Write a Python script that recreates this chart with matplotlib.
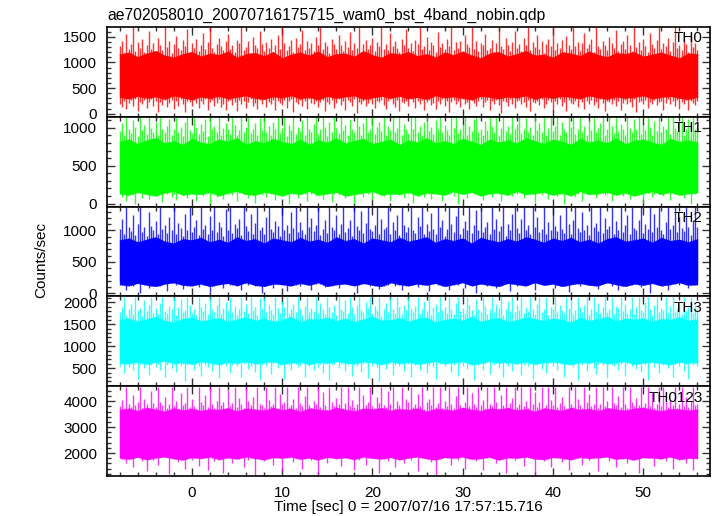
import numpy as np
import matplotlib
matplotlib.use('Agg')
import matplotlib.pyplot as plt
from matplotlib.ticker import MultipleLocator

plt.rcParams['font.family'] = ['Liberation Sans', 'DejaVu Sans']

title = "ae702058010_20070716175715_wam0_bst_4band_nobin.qdp"
xlabel = "Time [sec] 0 = 2007/07/16 17:57:15.716"
ylabel = "Counts/sec"
bands = ["TH0", "TH1", "TH2", "TH3", "TH0123"]
colors = ["#ff0000", "#00ff00", "#0000ff", "#00ffff", "#ff00ff"]

# time span of the light curves (seconds from 17:57:15.716)
t_start, t_stop = -8.0, 56.0

# ---- TH0 (red): 0.25-s upper / lower envelopes, 1-s dense core ----
th0_hi = [1310,1420,1180,1560,1270,1350,1690,1230,1390,1290,1460,1200,1340,1610,1260,1380,
          1220,1470,1330,1250,1690,1300,1410,1190,1360,1520,1280,1240,1430,1320,1650,1210,
          1370,1290,1450,1230,1340,1580,1260,1400,1690,1280,1200,1350,1480,1310,1240,1420,
          1550,1270,1330,1210,1440,1370,1690,1250,1300,1410,1190,1500,1340,1280,1620,1360,
          1230,1390,1290,1460,1210,1330,1540,1270,1690,1380,1250,1320,1430,1200,1470,1300,
          1350,1640,1240,1410,1280,1370,1220,1490,1330,1690,1260,1400,1310,1190,1450,1360,
          1270,1530,1340,1230,1420,1300,1600,1250,1380,1290,1690,1210,1350,1440,1270,1330,
          1480,1220,1390,1310,1690,1260,1360,1240,1570,1320,1410,1280,1200,1460,1340,1650,
          1290,1380,1230,1430,1350,1690,1270,1310,1500,1250,1400,1340,1210,1590,1300,1370,
          1260,1450,1320,1690,1240,1390,1280,1420,1200,1530,1350,1300,1690,1270,1410,1230,
          1380,1330,1560,1250,1290,1440,1210,1370,1690,1310,1260,1480,1340,1230,1400,1620,
          1280,1360,1220,1470,1330,1690,1250,1390,1300,1540,1270,1420,1190,1350,1460,1310,
          1690,1240,1380,1290,1430,1210,1510,1340,1260,1690,1320,1400,1230,1370,1580,1280,
          1350,1450,1200,1690,1310,1260,1420,1330,1240,1490,1380,1290,1640,1220,1360,1410,
          1270,1530,1340,1230,1690,1300,1390,1250,1460,1320,1210,1570,1350,1280,1440,1690,
          1260,1370,1310,1480,1220,1400,1690,1290,1340,1250,1430,1360,1200,1520,1300,1380,
          1250]
th0_lo = [190,140,250,90,210,260,160,280,60,230,180,270,120,220,280,150,
          250,40,230,170,270,130,210,260,100,240,160,280,190,30,250,220,
          150,270,200,110,250,180,280,80,230,260,160,210,280,140,190,70,
          240,260,170,220,50,270,190,250,120,230,280,160,200,100,260,180,
          280,140,230,190,270,80,250,200,170,260,110,240,280,40,220,190,
          260,160,240,90,280,210,180,250,140,230,270,60,220,190,260,120,
          200,280,170,240,80,260,220,150,280,20,230,190,250,150,210,270,
          180,110,250,220,270,170,90,240,280,190,140,260,50,230,210,250,
          160,280,220,120,250,190,260,70,230,270,170,210,100,250,180,280,
          150,240,40,220,270,190,250,130,280,180,230,90,260,210,160,250,
          280,140,220,260,80,240,190,270,170,10,250,220,150,280,190,110,
          240,260,180,220,140,270,60,230,210,250,170,280,120,190,260,220,
          90,250,190,280,160,230,50,260,210,180,240,140,280,220,100,250,
          190,260,170,230,120,280,210,60,250,220,180,270,150,240,80,210,
          260,180,230,140,280,30,220,250,190,260,110,230,180,270,170,220,
          250,80,210,280,180,240,150,260,100,230,190,270,70,250,210,170,
          240]
th0_core_hi = [1160,1200,1110,1180,1230,1140,1100,1170,1210,1120,1180,1150,1220,1100,1170,1190,
               1130,1210,1090,1160,1200,1140,1220,1110,1170,1180,1120,1230,1150,1100,1190,1160,
               1210,1130,1170,1100,1200,1150,1220,1140,1090,1180,1210,1120,1170,1230,1140,1160,
               1100,1200,1180,1130,1220,1150,1110,1190,1170,1210,1120,1160,1200,1140,1090,1180,
               1170]
th0_core_lo = [320,290,340,300,330,280,350,310,270,330,300,340,290,320,350,300,
               280,330,310,350,290,320,270,340,300,330,350,280,310,340,300,340,
               290,320,280,350,310,330,300,270,340,320,290,330,310,350,280,330,
               300,340,320,290,350,310,280,330,300,320,350,290,320,340,300,280,
               320]

# ---- TH1 (green) ----
th1_hi = [960,1060,900,1140,990,930,1100,1010,890,1140,970,1040,920,1140,1000,950,
          1080,910,1140,980,940,1030,1120,900,990,1140,950,1010,890,1070,1140,970,
          930,1140,1000,920,1050,960,1110,890,1140,980,1030,940,1140,910,1000,1060,
          980,920,1140,1040,900,970,1140,950,1010,1140,930,990,1060,900,1130,970,
          1140,950,1020,910,1080,980,1140,930,1000,1140,890,1040,970,1140,920,1010,
          960,1100,900,1140,990,940,1050,1140,920,980,1140,1010,890,1070,950,1140,
          1000,930,1140,970,1040,910,1110,980,950,1140,1020,900,1060,1140,940,990,
          1140,920,1010,1080,960,1140,900,1030,970,1140,940,1000,1140,910,1050,980,
          930,1140,990,1140,950,1020,900,1070,1140,960,1010,920,1100,980,1140,940,
          1040,970,910,1140,1000,1140,930,980,1050,1140,900,1020,960,1120,1140,950,
          990,910,1090,970,1140,1020,940,1140,900,1000,1140,960,1030,920,1140,980,
          1050,1140,930,990,1130,950,1010,900,1140,970,1060,940,1140,910,1000,1140,
          960,1020,1140,900,1070,980,940,1140,1010,1140,920,990,1140,950,1030,910,
          1100,970,1140,940,1000,1060,1140,900,980,1140,1020,930,1140,960,1050,990,
          910,1140,1000,950,1110,980,1140,920,1040,970,1140,1010,900,1090,960,1140,
          940,1030,980,1140,920,1140,1000,960,1070,1140,910,990,1120,950,1140,980,
          1010]
th1_lo = [150,90,170,40,130,160,110,0,140,170,80,150,120,60,160,130,
          100,170,140,20,150,120,170,90,130,50,160,140,110,170,70,150,
          160,120,30,150,170,100,140,160,0,130,170,90,150,120,60,170,
          130,150,110,170,40,140,160,120,170,80,130,150,10,160,140,110,
          170,90,150,130,160,50,140,170,120,100,160,0,150,130,170,80,
          140,160,120,30,170,130,150,100,160,140,60,170,120,150,20,130,
          160,110,170,140,70,150,130,160,0,140,170,120,90,160,130,150,
          50,170,140,120,160,100,150,170,30,130,160,140,110,170,80,150,
          130,160,10,150,120,170,140,90,160,130,60,170,150,120,160,40,
          170,140,120,160,100,150,0,170,130,160,80,140,170,120,150,110,
          160,50,150,130,170,90,160,140,120,30,170,150,130,160,100,140,
          120,170,140,70,160,130,150,170,20,140,160,110,150,170,60,130,
          160,140,100,170,130,0,150,160,120,170,90,140,160,40,150,130,
          170,120,150,80,160,140,170,110,130,160,30,150,170,120,140,100,
          150,170,60,140,160,130,120,170,10,150,140,160,90,130,170,120,
          140,100,160,170,50,150,130,160,120,170,80,140,150,0,160,130,
          150]
th1_core_hi = [820,850,790,840,870,800,830,780,860,810,790,850,820,870,780,830,
               800,860,820,790,850,780,840,810,870,800,830,860,790,820,850,780,
               840,810,870,800,830,790,860,820,780,850,810,840,800,870,830,790,
               850,820,780,860,810,840,800,870,790,830,850,810,780,860,820,840,
               810]
th1_core_lo = [130,110,150,120,100,140,160,110,130,120,150,100,140,160,120,110,
               150,130,100,140,120,160,110,130,150,100,120,140,160,110,130,120,
               150,100,140,130,110,160,120,150,100,130,140,110,160,120,130,150,
               110,140,100,160,120,130,150,110,140,100,130,160,120,150,110,130,
               140]

# ---- TH2 (blue) ----
th2_hi = [1020,1180,950,1380,1060,990,1240,930,1110,1380,980,1050,920,1300,1070,1000,
          1150,940,1380,1030,1090,960,1210,1010,1380,950,1120,1040,910,1270,1000,1380,
          980,1060,1160,930,1380,1020,1090,950,1230,1000,1380,970,1140,1050,920,1340,
          1010,1380,960,1100,1040,1190,930,1380,1070,990,1260,950,1120,1380,1000,1060,
          940,1220,1380,1030,980,1150,1070,920,1380,1010,1090,960,1290,1040,1380,970,
          1130,1000,940,1380,1060,1200,990,1080,1380,930,1030,1170,960,1380,1050,1010,
          1250,950,1100,1380,980,1040,1160,920,1380,1070,1000,1310,960,1120,1380,1030,
          990,1080,1380,940,1190,1020,1060,1380,950,1140,1000,1240,930,1380,1090,970,
          1050,1380,1010,960,1210,1070,1380,940,1110,990,1280,1030,950,1380,1060,1170,
          920,1020,1380,1100,980,1230,1380,950,1040,1150,1000,1380,960,1080,1320,1010,
          1380,970,1060,1130,940,1380,1030,1190,990,1070,1380,920,1110,1000,1260,1380,
          1040,960,1180,1380,1010,1090,950,1380,1060,1220,980,1030,1380,940,1140,1000,
          1380,1070,990,1250,1020,960,1380,1100,950,1160,1380,1040,980,1300,1010,1080,
          930,1380,1050,1120,990,1380,960,1200,1030,1070,1380,950,1150,1010,1380,980,
          1090,1240,940,1380,1040,1000,1170,1380,960,1110,1030,1380,980,1270,1060,1380,
          1000,950,1130,1380,1020,1080,1380,970,1210,1040,990,1380,1060,930,1160,1380,
          1050]
th2_lo = [200,150,220,60,180,210,120,230,170,0,200,160,220,90,190,140,
          230,170,110,210,190,40,220,160,200,130,230,180,70,210,150,200,
          160,220,190,100,230,170,140,210,20,190,220,150,180,230,80,200,
          210,130,230,180,160,220,50,190,210,140,170,230,110,200,180,0,
          190,220,150,230,90,180,210,160,200,230,30,170,220,140,190,210,
          120,200,230,170,190,60,220,150,210,180,230,100,160,220,190,140,
          230,80,180,210,160,230,130,200,190,10,220,170,150,210,230,110,
          180,220,150,70,200,190,230,140,170,210,120,230,190,50,200,160,
          220,140,190,230,100,180,210,160,230,30,200,170,220,130,190,210,
          150,230,60,200,180,220,140,190,210,90,230,160,200,180,0,220,
          170,200,230,120,190,160,210,80,230,180,150,220,200,40,190,230,
          110,210,170,200,230,140,180,220,60,190,210,160,230,130,200,170,
          220,90,190,230,150,210,180,20,200,230,160,190,120,220,170,210,
          230,140,200,180,70,220,160,210,190,230,110,180,200,50,210,170,
          190,220,130,230,180,160,210,100,200,230,150,0,190,220,170,140,
          210,180,230,60,200,160,220,190,130,230,170,210,80,190,220,160,
          200]
th2_core_hi = [850,880,820,860,900,830,800,870,850,890,820,860,810,900,840,870,
               800,880,850,820,890,830,860,810,900,840,870,800,880,850,820,890,
               830,860,900,810,870,840,880,800,890,850,820,870,830,900,860,810,
               880,840,890,820,860,800,870,900,830,850,880,810,890,840,860,820,
               870]
th2_core_lo = [140,120,160,130,110,150,170,130,120,150,110,140,160,120,170,130,
               110,150,140,120,160,130,170,110,140,150,120,160,130,110,170,140,
               120,150,130,160,110,140,170,120,150,130,110,160,140,120,170,130,
               150,110,140,160,130,120,170,140,110,150,130,160,120,140,170,130,
               140]

# ---- TH3 (cyan) ----
th3_hi = [1780,1900,2130,1720,1850,1960,1740,2130,1820,1880,1700,2050,1810,1930,2130,1760,
          1870,1730,1990,2130,1800,1750,1920,1840,2130,1710,1890,2070,1780,1830,2130,1950,
          1760,1860,1720,2130,1900,1800,1980,1740,2130,1850,1790,1940,2130,1730,1880,2010,
          1820,2130,1770,1910,1710,1860,2130,1800,1960,1750,2130,1830,1890,1720,2090,1850,
          2130,1780,1940,1820,1740,2130,1880,1760,2030,1900,2130,1730,1850,1970,1790,2130,
          1840,1710,1920,2130,1770,1880,1810,2130,1750,1990,1860,1730,2130,1900,1790,1950,
          1720,2130,1850,1800,2060,1760,2130,1890,1740,1930,2130,1820,1780,2010,1870,2130,
          1750,1910,1830,2130,1700,1860,1980,1790,2130,1840,1760,2130,1900,1730,1950,1820,
          2130,1880,1770,1920,2130,1740,1850,2040,1810,2130,1720,1890,1960,1780,2130,1830,
          1900,1760,2130,1850,1730,1990,2130,1800,1870,1750,2130,1930,1820,1710,2080,1860,
          1790,2130,1910,1740,1840,2130,1780,1960,1880,2130,1720,1850,2020,1800,2130,1770,
          1930,1820,2130,1750,1890,1800,2130,1860,1730,1970,2130,1790,1840,2130,1710,1900,
          1850,2130,1780,1940,1820,1760,2130,1880,2050,1740,1830,2130,1900,1770,1950,2130,
          1720,1860,2130,1810,1980,1750,1890,2130,1790,1840,2130,1730,1920,1870,2130,1800,
          1960,1760,1850,2130,1740,1900,2130,1820,1780,2000,2130,1860,1710,1930,2130,1790,
          1880,1830,2130,1750,1910,2130,1770,1860,1990,1740,2130,1820,1890,2130,1760,1940,
          1850]
th3_lo = [560,620,380,590,520,640,450,600,250,580,630,500,610,340,570,640,
          530,600,460,640,290,580,620,510,590,410,630,550,600,200,580,620,
          600,470,640,560,330,610,580,520,640,430,590,620,270,570,610,540,
          630,390,580,610,540,640,300,590,620,480,560,640,420,600,230,580,
          610,550,640,360,590,620,500,580,640,260,610,570,450,630,590,520,
          580,640,310,600,560,620,470,640,530,590,380,610,640,240,570,600,
          640,500,590,620,440,580,640,320,600,560,630,410,590,620,280,610,
          560,630,520,210,600,640,480,590,620,350,580,640,540,600,430,630,
          590,300,610,570,640,460,600,620,390,580,640,520,260,610,590,630,
          540,600,640,420,580,620,330,610,560,640,490,590,620,220,600,570,
          630,470,590,640,370,610,580,620,510,640,290,600,560,630,440,590,
          610,640,340,580,620,540,600,250,630,570,610,480,640,400,590,620,
          560,610,460,640,590,310,620,580,640,520,600,230,610,570,630,430,
          600,640,500,360,590,620,570,640,270,610,580,540,630,450,600,640,
          320,590,620,560,640,480,600,410,630,580,240,610,640,520,590,380,
          620,570,640,500,610,300,590,630,550,640,430,600,260,620,580,610,
          560]
th3_core_hi = [1600,1640,1570,1620,1680,1590,1550,1630,1660,1580,1610,1650,1560,1620,1670,1590,
               1640,1570,1600,1680,1550,1630,1610,1660,1580,1640,1560,1620,1680,1590,1600,1650,
               1570,1630,1660,1550,1610,1640,1590,1680,1570,1620,1650,1560,1600,1670,1630,1580,
               1640,1610,1550,1660,1590,1620,1680,1570,1640,1600,1650,1560,1630,1610,1670,1590,
               1620]
th3_core_lo = [620,600,650,590,640,660,610,630,590,650,620,580,640,610,660,600,
               630,650,590,620,640,580,640,610,660,620,600,650,630,580,650,610,
               640,590,620,660,600,630,650,580,610,660,620,640,600,650,590,630,
               650,610,580,640,620,660,600,630,650,590,620,640,610,580,640,620,
               630]

# ---- TH0123 (magenta) ----
th0123_hi = [3820,4050,3700,4560,3900,3760,4220,3850,3980,4560,3740,4100,3880,3690,4380,3920,
             3780,4560,3960,3850,4150,3720,3900,4560,3800,4000,3680,4300,3870,3940,4560,3760,
             4080,3830,3710,4560,3950,3870,4250,3790,4560,3900,3740,4020,4560,3850,3960,3700,
             4420,3810,3920,4560,3770,4120,3880,3730,4560,3990,3840,4180,3700,4560,3910,3860,
             3750,4560,4030,3820,3900,4560,3690,4270,3880,3960,4560,3780,3850,4090,3720,4560,
             3930,3800,4200,4560,3860,3740,4000,3910,4560,3770,4340,3850,3700,4560,3960,3820,
             4110,3880,4560,3730,3940,4560,3810,4050,3760,3900,4560,3690,4230,3870,3980,4560,
             3800,3720,4160,3920,4560,3850,3760,4400,3890,4560,3740,3990,3840,4560,3700,4070,
             3950,4560,3780,3880,4260,3820,4560,3710,3960,4100,3860,4560,3790,3920,4560,3740,
             4010,3830,4560,3900,3750,4190,4560,3870,3720,3980,4560,3810,4320,3890,3760,4560,
             3840,4060,3730,4560,3910,3800,4560,3950,3700,4240,3860,4560,3780,3930,4120,4560,
             3760,3890,4560,3820,4000,3740,4560,3880,4360,3790,3950,4560,3710,3870,4560,4030,
             3850,4560,3770,3940,4150,3820,3690,4560,3900,3780,4560,4080,3860,3730,4560,3960,
             4280,3800,3910,4560,3750,3880,4560,3830,4020,3710,4560,3940,3860,4200,3780,4560,
             3900,3740,4560,3970,3820,4110,3870,4560,3760,3930,4560,3800,4330,3720,3890,4560,
             3810,4560,3950,3780,4040,3870,4560,3740,3910,4560,3830,4170,3760,3990,4560,3850,
             3900]
th0123_lo = [1950,1800,2050,1600,1900,2000,1450,1950,1850,2050,1700,1950,1300,2000,1900,1750,
             2050,1550,1900,2000,1850,1950,1200,2050,1800,1900,1650,2000,1950,1400,1850,2050,
             1750,1950,2000,1500,1900,2050,1850,1350,2000,1950,1700,2050,1800,1900,1250,1950,
             2000,1850,1600,2050,1950,1800,1900,1450,2050,1750,2000,1900,1150,1950,2050,1850,
             1700,2000,1900,2050,1550,1950,1850,2000,1300,1900,2050,1800,1950,1650,2000,1900,
             2050,1400,1950,1850,2000,1750,2050,1900,1200,1950,2000,1850,1600,2050,1900,1950,
             1800,2050,1500,1950,2000,1900,1850,2050,1350,1950,1750,2000,2050,1550,1900,1950,
             2000,1850,2050,1250,1950,1900,2000,1700,2050,1800,1450,1950,2000,1900,1600,2050,
             1950,1750,2000,1850,1300,2050,1950,1900,1800,2000,1650,2050,1150,1950,1900,2000,
             1850,2050,1950,1550,2000,1900,1750,2050,1950,1400,1900,2000,1850,2050,1700,1950,
             2000,1350,1950,2050,1900,1800,2000,1600,2050,1950,1850,1250,2000,1900,2050,1750,
             1950,2000,1850,1500,2050,1900,1950,1800,1200,2000,2050,1900,1700,1950,2000,1450,
             2050,1900,1950,2000,1650,1850,2050,1350,1950,1900,2000,1800,2050,1550,1950,1900,
             1750,2050,1950,1900,1300,2000,1850,2050,1950,1700,1900,2000,1450,2050,1900,1950,
             2000,1600,1950,2050,1850,1900,1250,2000,1950,2050,1800,1900,1950,1500,2050,1850,
             1950,2000,1700,1900,2050,1400,1950,2000,1850,1950,2050,1600,1900,2000,1350,1950,
             2000]
th0123_core_hi = [3680,3730,3630,3760,3690,3610,3740,3660,3720,3640,3700,3680,3750,3620,3730,3690,
                  3650,3760,3670,3720,3600,3740,3690,3640,3760,3680,3620,3730,3700,3750,3650,3710,
                  3670,3740,3610,3720,3690,3650,3760,3680,3630,3730,3700,3750,3660,3710,3610,3740,
                  3690,3640,3760,3670,3720,3620,3750,3690,3650,3730,3760,3680,3630,3710,3700,3650,
                  3700]
th0123_core_lo = [1800,1760,1840,1740,1810,1850,1780,1730,1830,1790,1850,1750,1820,1770,1850,1790,
                  1740,1830,1800,1850,1760,1810,1730,1840,1790,1820,1750,1850,1800,1770,1830,1740,
                  1810,1850,1780,1730,1830,1800,1850,1760,1790,1840,1730,1820,1800,1850,1770,1750,
                  1830,1800,1740,1840,1790,1820,1850,1760,1800,1730,1830,1810,1780,1850,1750,1800,
                  1790]

hi_list = [th0_hi, th1_hi, th2_hi, th3_hi, th0123_hi]
lo_list = [th0_lo, th1_lo, th2_lo, th3_lo, th0123_lo]
core_hi_list = [th0_core_hi, th1_core_hi, th2_core_hi, th3_core_hi, th0123_core_hi]
core_lo_list = [th0_core_lo, th1_core_lo, th2_core_lo, th3_core_lo, th0123_core_lo]

ylims = [(-60, 1690), (-40, 1145), (-48, 1380), (90, 2136), (1115, 4577)]
ymajor = [500, 500, 500, 500, 1000]
yminor = [100, 100, 100, 100, 200]
xlim = (-9.4, 57.4)

fig = plt.figure(figsize=(7.17, 5.16), dpi=100)
gs = fig.add_gridspec(5, 1, left=0.1492, right=0.9902, top=0.9477, bottom=0.0775, hspace=0)

for i in range(5):
    ax = fig.add_subplot(gs[i])
    c = colors[i]
    hi = np.array(hi_list[i], dtype=float)
    lo = np.array(lo_list[i], dtype=float)
    chi = np.array(core_hi_list[i], dtype=float)
    clo = np.array(core_lo_list[i], dtype=float)
    t_hi = np.linspace(t_start, t_stop, len(hi))
    t_lo = np.linspace(t_start, t_stop, len(lo))
    t_core = np.linspace(t_start, t_stop, len(chi))
    # upward spikes from the core, downward spikes from the core
    ax.vlines(t_hi, np.interp(t_hi, t_core, clo), hi, color=c, lw=1.0, alpha=0.8)
    ax.vlines(t_lo, lo, np.interp(t_lo, t_core, chi), color=c, lw=1.0, alpha=0.8)
    ax.fill_between(t_core, clo, chi, color=c, lw=0)
    ax.set_xlim(*xlim)
    ax.set_ylim(*ylims[i])
    ax.xaxis.set_major_locator(MultipleLocator(10))
    ax.xaxis.set_minor_locator(MultipleLocator(2))
    ax.yaxis.set_major_locator(MultipleLocator(ymajor[i]))
    ax.yaxis.set_minor_locator(MultipleLocator(yminor[i]))
    ax.tick_params(which='both', direction='in', top=True, right=True, width=1.0,
                   labelsize=11, color='#333333')
    ax.tick_params(which='major', length=6, pad=7)
    ax.tick_params(which='minor', length=3)
    for s in ax.spines.values():
        s.set_linewidth(1.2)
    if i < 4:
        ax.tick_params(labelbottom=False)
    ax.text(0.988, 0.95, bands[i], transform=ax.transAxes, ha='right', va='top', fontsize=11)
    if i == 0:
        ax.set_title(title, loc='left', fontsize=11.3, pad=5)

fig.text(0.057, 0.496, ylabel, rotation=90, ha='center', va='center', fontsize=11)
fig.text(0.5697, 0.0174, xlabel, ha='center', va='center', fontsize=11)

fig.savefig('out.png', dpi=100)
